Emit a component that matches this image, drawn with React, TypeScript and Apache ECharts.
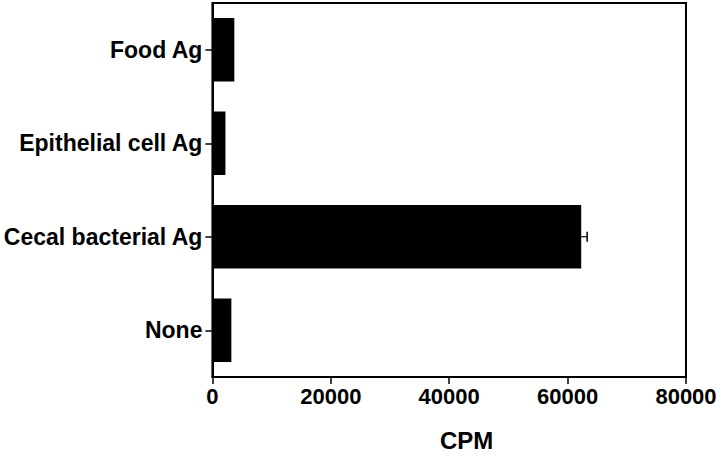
import React, { useEffect, useRef } from "react";
import * as echarts from "echarts";

const categories = ["None", "Cecal bacterial Ag", "Epithelial cell Ag", "Food Ag"];
const cpmValues = [3200, 62300, 2200, 3700];
const cpmErrors = [0, 1000, 0, 0];
const xTicks = [0, 20000, 40000, 60000, 80000];
const xTitle = "CPM";

export default function App() {
  const ref = useRef<HTMLDivElement>(null);
  useEffect(() => {
    if (!ref.current) return;
    const chart = echarts.init(ref.current, null, { renderer: "svg" });
    const font = "'Liberation Sans', Arial, Helvetica, sans-serif";
    chart.setOption({
      animation: false,
      backgroundColor: "#fff",
      grid: { left: 211, right: 34, top: 3, bottom: 82, containLabel: false, show: true, borderColor: "#000", borderWidth: 2 },
      graphic: [
        {
          type: "text",
          left: 440,
          top: 428,
          style: { text: xTitle, fontFamily: font, fontWeight: "bold", fontSize: 24, fill: "#000", letterSpacing: 3 } as any,
        },
      ],
      xAxis: {
        type: "value",
        min: xTicks[0],
        max: xTicks[xTicks.length - 1],
        interval: 20000,
        axisLine: { show: true, lineStyle: { color: "#000", width: 2 } },
        axisTick: { show: true, length: 7, lineStyle: { color: "#000", width: 1.5 } },
        axisLabel: { fontFamily: font, fontWeight: "bold", fontSize: 22, color: "#000", margin: 8, formatter: (v: number) => String(v) },
        splitLine: { show: false },
      },
      yAxis: {
        type: "category",
        data: categories,
        axisLine: { show: true, lineStyle: { color: "#000", width: 2 } },
        axisTick: { show: true, alignWithLabel: true, length: 7, lineStyle: { color: "#000", width: 1.5 } },
        axisLabel: { fontFamily: font, fontWeight: "bold", fontSize: 23, color: "#000", margin: 10 },
      },
      series: [
        {
          type: "bar",
          data: cpmValues,
          barWidth: "68%",
          itemStyle: { color: "#000" },
        },
        {
          type: "custom",
          data: cpmValues.map((v, i) => [v, i, cpmErrors[i]]),
          encode: { x: 0, y: 1 },
          renderItem: (params: any, api: any) => {
            const v = api.value(0);
            const idx = api.value(1);
            const err = api.value(2);
            if (!err) return null;
            const start = api.coord([v, idx]);
            const end = api.coord([v + err, idx]);
            return {
              type: "group",
              children: [
                { type: "line", shape: { x1: start[0], y1: start[1], x2: end[0], y2: end[1] }, style: { stroke: "#000", lineWidth: 1.2 } },
                { type: "line", shape: { x1: end[0], y1: end[1] - 5, x2: end[0], y2: end[1] + 5 }, style: { stroke: "#000", lineWidth: 1.5 } },
              ],
            };
          },
          z: 5,
        },
      ],
    });
    return () => chart.dispose();
  }, []);
  return <div ref={ref} style={{ width: 720, height: 459, position: "absolute", left: 0, top: 0 }} />;
}
